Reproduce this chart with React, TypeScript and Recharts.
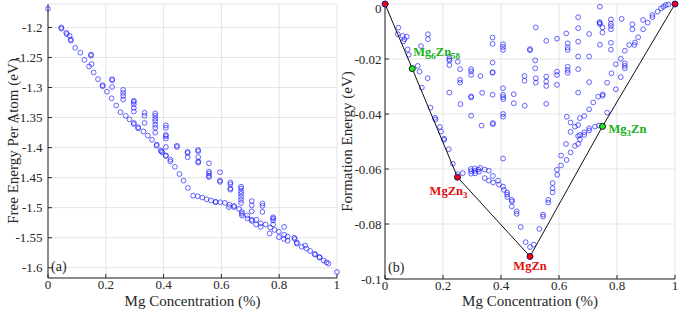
import React from "react";
import { ScatterChart, Scatter, XAxis, YAxis, CartesianGrid } from "recharts";

const concTicks = [0, 0.2, 0.4, 0.6, 0.8, 1];
const freeTicks = [-1.6, -1.55, -1.5, -1.45, -1.4, -1.35, -1.3, -1.25, -1.2];
const formTicks = [-0.1, -0.08, -0.06, -0.04, -0.02, 0];

// panel (a): free energy per atom
const freeX = [
  0, 0.046, 0.046, 0.063, 0.065, 0.075, 0.079, 0.079, 0.094, 0.112, 0.126, 0.142, 0.149, 0.149, 0.151, 0.158,
  0.173, 0.189, 0.189, 0.204, 0.22, 0.222, 0.222, 0.222, 0.236, 0.251, 0.26, 0.26, 0.26, 0.26, 0.269, 0.282,
  0.297, 0.297, 0.297, 0.297, 0.297, 0.297, 0.297, 0.312, 0.312, 0.33, 0.334, 0.334, 0.334, 0.345, 0.36,
  0.371, 0.371, 0.371, 0.371, 0.371, 0.371, 0.371, 0.376, 0.376, 0.39, 0.395, 0.393,
  0.408, 0.408, 0.408, 0.408, 0.408, 0.408, 0.408, 0.408, 0.424, 0.423, 0.439, 0.446, 0.446, 0.455, 0.469,
  0.483, 0.483, 0.483, 0.484, 0.502, 0.519, 0.52, 0.52, 0.52, 0.52, 0.518, 0.534, 0.549,
  0.557, 0.557, 0.557, 0.557, 0.557, 0.564, 0.58, 0.58, 0.595, 0.595, 0.595, 0.596, 0.612, 0.626, 0.628,
  0.631, 0.631, 0.631, 0.631, 0.644, 0.644, 0.661, 0.668, 0.668, 0.668, 0.668, 0.668, 0.668, 0.668,
  0.671, 0.671, 0.671, 0.69, 0.69, 0.705, 0.705, 0.705, 0.705, 0.705, 0.721, 0.72, 0.736, 0.736,
  0.742, 0.742, 0.742, 0.753, 0.769, 0.767, 0.779, 0.779, 0.779, 0.779, 0.784, 0.799, 0.799, 0.817, 0.817, 0.816,
  0.829, 0.829, 0.852, 0.854, 0.861, 0.861, 0.878, 0.89, 0.894, 0.907, 0.922, 0.925, 0.939, 0.94, 0.954, 0.964,
  0.97, 1,
];
const freeY = [
  -1.169, -1.2, -1.202, -1.209, -1.211, -1.214, -1.22, -1.222, -1.234, -1.242, -1.254, -1.265, -1.245, -1.247, -1.261, -1.275,
  -1.286, -1.296, -1.298, -1.307, -1.318, -1.286, -1.288, -1.299, -1.33, -1.341, -1.304, -1.309, -1.314, -1.32, -1.347, -1.353,
  -1.322, -1.324, -1.328, -1.334, -1.34, -1.359, -1.361, -1.366, -1.368, -1.373, -1.342, -1.347, -1.359, -1.38, -1.387,
  -1.343, -1.347, -1.352, -1.356, -1.362, -1.367, -1.375, -1.395, -1.397, -1.405, -1.408, -1.406,
  -1.363, -1.367, -1.379, -1.381, -1.385, -1.399, -1.413, -1.414, -1.42, -1.423, -1.432, -1.397, -1.399, -1.444, -1.455,
  -1.407, -1.409, -1.416, -1.467, -1.48, -1.404, -1.406, -1.416, -1.423, -1.425, -1.481, -1.483, -1.486,
  -1.426, -1.44, -1.443, -1.447, -1.449, -1.488, -1.49, -1.491, -1.441, -1.455, -1.457, -1.491, -1.492, -1.499, -1.495,
  -1.458, -1.461, -1.468, -1.47, -1.497, -1.499, -1.502, -1.465, -1.468, -1.473, -1.477, -1.482, -1.487, -1.492,
  -1.507, -1.51, -1.513, -1.513, -1.518, -1.489, -1.496, -1.506, -1.52, -1.522, -1.52, -1.528, -1.526, -1.532,
  -1.493, -1.497, -1.507, -1.528, -1.533, -1.543, -1.516, -1.518, -1.521, -1.528, -1.537, -1.54, -1.549, -1.532, -1.545, -1.552,
  -1.548, -1.555, -1.55, -1.552, -1.558, -1.56, -1.565, -1.563, -1.568, -1.572, -1.577, -1.578, -1.582, -1.583, -1.588, -1.591,
  -1.593, -1.607,
];

// panel (b): formation energy
const formX = [
  0.046, 0.044, 0.061, 0.075, 0.067, 0.063, 0.078, 0.082, 0.113, 0.119, 0.127, 0.148, 0.148, 0.124, 0.147, 0.157,
  0.172, 0.174, 0.189, 0.193, 0.203, 0.204, 0.22, 0.234, 0.251, 0.268, 0.296, 0.297, 0.297, 0.309, 0.311, 0.311,
  0.322, 0.324, 0.222, 0.222, 0.222, 0.222, 0.251, 0.259, 0.259, 0.259, 0.222, 0.26, 0.297, 0.297, 0.297, 0.297,
  0.297, 0.297, 0.329, 0.335, 0.333, 0.371, 0.371, 0.371, 0.371, 0.371, 0.371, 0.372, 0.372,
  0.407, 0.407, 0.407, 0.407, 0.407, 0.407, 0.408, 0.407, 0.407, 0.407, 0.444, 0.444, 0.481, 0.481, 0.482,
  0.5, 0.5, 0.518, 0.518, 0.52, 0.52, 0.52, 0.556, 0.556, 0.556, 0.556, 0.556, 0.593, 0.593, 0.593, 0.593,
  0.625, 0.63, 0.63, 0.63, 0.63, 0.63, 0.63, 0.627,
  0.328, 0.344, 0.358, 0.372, 0.344, 0.358, 0.373, 0.39, 0.393, 0.407, 0.41, 0.421, 0.421, 0.422, 0.437, 0.438,
  0.437, 0.454, 0.454, 0.468, 0.485, 0.5, 0.513, 0.532, 0.545, 0.545, 0.563, 0.563, 0.578, 0.578, 0.578, 0.593,
  0.594, 0.607, 0.607, 0.626, 0.624, 0.64, 0.64, 0.64, 0.655, 0.655, 0.672, 0.672, 0.672, 0.666, 0.666, 0.666,
  0.687, 0.687, 0.687, 0.704, 0.704, 0.704, 0.724, 0.738, 0.718, 0.735, 0.75, 0.751, 0.766, 0.766, 0.781, 0.796,
  0.796, 0.813, 0.813, 0.827, 0.827, 0.827, 0.827, 0.842, 0.86, 0.862, 0.873,
  0.666, 0.666, 0.666, 0.666, 0.666, 0.666, 0.704, 0.704, 0.704, 0.741, 0.74, 0.74, 0.741, 0.75, 0.75, 0.741,
  0.779, 0.779, 0.779, 0.779, 0.779, 0.779, 0.816, 0.853, 0.853, 0.89, 0.89, 0.906, 0.922, 0.922, 0.94, 0.952,
  0.96, 0.968, 0.977,
];
const formY = [
  -0.0086, -0.011, -0.0116, -0.0119, -0.0128, -0.0136, -0.0165, -0.0185, -0.0225, -0.0246, -0.0304, -0.011, -0.0128, -0.0153, -0.027, -0.0377,
  -0.0414, -0.042, -0.0447, -0.0464, -0.049, -0.0494, -0.0528, -0.0581, -0.0619, -0.0615, -0.06, -0.0608, -0.0617, -0.0598, -0.0607, -0.0616,
  -0.0602, -0.061, -0.0191, -0.02, -0.0206, -0.0222, -0.021, -0.0237, -0.0276, -0.0286, -0.0322, -0.0364, -0.0237, -0.0245, -0.0258, -0.0336,
  -0.034, -0.0406, -0.0262, -0.0323, -0.0442, -0.0122, -0.0145, -0.0213, -0.0248, -0.025, -0.033, -0.0433, -0.0437,
  -0.0146, -0.0156, -0.0167, -0.0306, -0.033, -0.0338, -0.0346, -0.04, -0.041, -0.0562, -0.0328, -0.0361, -0.0262, -0.0279, -0.037,
  -0.0164, -0.0168, -0.0205, -0.0234, -0.0085, -0.027, -0.0286, -0.0134, -0.0264, -0.0282, -0.0298, -0.0363, -0.0126, -0.0246, -0.0258, -0.0294,
  -0.0107, -0.0143, -0.0158, -0.0167, -0.0228, -0.024, -0.025, -0.041,
  -0.0596, -0.0602, -0.0606, -0.0625, -0.0633, -0.0642, -0.0649, -0.0642, -0.0657, -0.0664, -0.0676, -0.0685, -0.0693, -0.0702, -0.0712, -0.0718,
  -0.0736, -0.0754, -0.0763, -0.0811, -0.0866, -0.0884, -0.0875, -0.0818, -0.0766, -0.0773, -0.0712, -0.0722, -0.0651, -0.067, -0.0685, -0.0603,
  -0.0621, -0.0551, -0.0587, -0.0567, -0.0509, -0.054, -0.0465, -0.0431, -0.0516, -0.0446, -0.0492, -0.0476, -0.0415, -0.044, -0.048, -0.0509,
  -0.0476, -0.0467, -0.0407, -0.046, -0.0452, -0.0383, -0.0446, -0.0442, -0.0358, -0.0337, -0.0334, -0.0329, -0.0395, -0.0286, -0.0252, -0.031,
  -0.0219, -0.0266, -0.0199, -0.017, -0.0216, -0.0225, -0.0234, -0.0149, -0.0149, -0.014, -0.0121,
  -0.0048, -0.0088, -0.0137, -0.0191, -0.0237, -0.0322, -0.0109, -0.0191, -0.0284, -0.001, -0.0066, -0.0069, -0.0073, -0.0085, -0.0104, -0.0148,
  -0.0056, -0.0071, -0.008, -0.0092, -0.0141, -0.0166, -0.0054, -0.0074, -0.0092, -0.0058, -0.0092, -0.0068, -0.004, -0.0048, -0.0028, -0.0016,
  -0.001, -0.0004, -0.0002,
];

// convex hull phases
const hullX = [0, 0.094, 0.25, 0.5, 0.75, 1];
const hullY = [0, -0.0235, -0.063, -0.0918, -0.0445, 0];
const hullNames = ["", "Mg_6Zn_58", "MgZn_3", "MgZn", "Mg_3Zn", ""];
const hullStable = [true, false, true, true, false, true];

const freeData = freeX.map((x, i) => ({ x, y: freeY[i] }));
const formData = formX.map((x, i) => ({ x, y: formY[i] }));
const hullData = hullX.map((x, i) => ({ x, y: hullY[i], name: hullNames[i], stable: hullStable[i] }));

const FONT = '"Liberation Serif", "DejaVu Serif", serif';
const INK = "#262626";
const RED = "#e01010";
const GREEN = "#20b020";

const labelStyle: Record<string, { dx: number; dy: number; anchor: string }> = {
  Mg_6Zn_58: { dx: 1, dy: -13, anchor: "start" },
  MgZn_3: { dx: -9, dy: 18, anchor: "middle" },
  MgZn: { dx: 0, dy: 14, anchor: "middle" },
  Mg_3Zn: { dx: 6, dy: 7, anchor: "start" },
};

const Ring = (p: any) => (
  <circle cx={p.cx} cy={p.cy} r={2.4} fill="none" stroke="#1010ff" strokeOpacity={0.8} strokeWidth={0.8} />
);

const HullPoint = (p: any) => {
  const { cx, cy, payload } = p;
  const st = labelStyle[payload.name];
  const parts = payload.name ? payload.name.split(/_(\d+)/) : [];
  return (
    <g>
      <circle
        cx={cx}
        cy={cy}
        r={3}
        fill={payload.stable ? "#ff0000" : "#22ee22"}
        stroke={payload.stable ? "#10108a" : "#111"}
        strokeWidth={1}
      />
      {st && (
        <text
          x={cx + st.dx}
          y={cy + st.dy}
          textAnchor={st.anchor}
          fill={payload.stable ? RED : GREEN}
          fontWeight="bold"
          fontSize={12.5}
          fontFamily={FONT}
        >
          {parts.map((t: string, i: number) =>
            i % 2 ? (
              <tspan key={i} fontSize={9} dy={3}>{t}</tspan>
            ) : (
              <tspan key={i} dy={i > 0 ? -3 : 0}>{t}</tspan>
            )
          )}
        </text>
      )}
    </g>
  );
};

const panelTag = (tag: string) => (p: any) => (
  <text x={p.cx + 3} y={p.cy - 7} fontSize={14} fill={INK} fontFamily={FONT}>{tag}</text>
);

const tickStyle = { fill: INK, fontSize: 13, fontFamily: FONT };
const axisLabel = { fill: INK, fontSize: 15, fontFamily: FONT };

export default function App() {
  return (
    <div style={{ position: "absolute", left: 0, top: 0, width: 681, height: 316, background: "#fff", fontFamily: FONT }}>
      <div style={{ position: "absolute", left: 0, top: 0 }}>
        <ScatterChart width={340} height={316} margin={{ top: 4, right: 3, bottom: 0, left: 0 }}>
          <CartesianGrid stroke="#e4e4e4" />
          <XAxis
            type="number" dataKey="x" domain={[0, 1]} ticks={concTicks} height={38}
            tickSize={-4} tickMargin={6} stroke={INK} tick={tickStyle}
            label={{ value: "Mg Concentration (%)", position: "insideBottom", offset: 10, ...axisLabel }}
          />
          <XAxis xAxisId="top" orientation="top" type="number" domain={[0, 1]} ticks={concTicks} height={0} tick={false} tickSize={-4} stroke={INK} />
          <YAxis
            type="number" dataKey="y" domain={[-1.617, -1.161]} ticks={freeTicks} width={48}
            tickSize={-4} tickMargin={9.5} stroke={INK} tick={tickStyle}
            label={{ value: "Free Energy Per Atom (eV)", angle: -90, position: "center", dx: -11, ...axisLabel }}
          />
          <YAxis yAxisId="right" orientation="right" type="number" domain={[-1.617, -1.161]} ticks={freeTicks} width={0} tick={false} tickSize={-4} stroke={INK} />
          <Scatter data={freeData} shape={Ring} isAnimationActive={false} />
          <Scatter data={[{ x: 0, y: -1.617 }]} shape={panelTag("(a)")} isAnimationActive={false} />
        </ScatterChart>
      </div>
      <div style={{ position: "absolute", left: 340, top: 0 }}>
        <ScatterChart width={341} height={316} margin={{ top: 4, right: 6, bottom: 0, left: 0 }}>
          <CartesianGrid stroke="#e4e4e4" />
          <XAxis
            type="number" dataKey="x" domain={[0, 1]} ticks={concTicks} height={37}
            tickSize={-4} tickMargin={6} stroke={INK} tick={tickStyle}
            label={{ value: "Mg Concentration (%)", position: "insideBottom", offset: 10, ...axisLabel }}
          />
          <XAxis xAxisId="top" orientation="top" type="number" domain={[0, 1]} ticks={concTicks} height={0} tick={false} tickSize={-4} stroke={INK} />
          <YAxis
            type="number" dataKey="y" domain={[-0.1, 0]} ticks={formTicks} width={45}
            tickSize={-4} tickMargin={7.5} stroke={INK} tick={tickStyle}
            label={{ value: "Formation Energy (eV)", angle: -90, position: "center", dx: -16, ...axisLabel }}
          />
          <YAxis yAxisId="right" orientation="right" type="number" domain={[-0.1, 0]} ticks={formTicks} width={0} tick={false} tickSize={-4} stroke={INK} />
          <Scatter data={formData} shape={Ring} isAnimationActive={false} />
          <Scatter data={hullData} shape={HullPoint} line={{ stroke: "#111", strokeWidth: 1 }} lineType="joint" isAnimationActive={false} />
          <Scatter data={[{ x: 0, y: -0.1 }]} shape={panelTag("(b)")} isAnimationActive={false} />
        </ScatterChart>
      </div>
    </div>
  );
}
